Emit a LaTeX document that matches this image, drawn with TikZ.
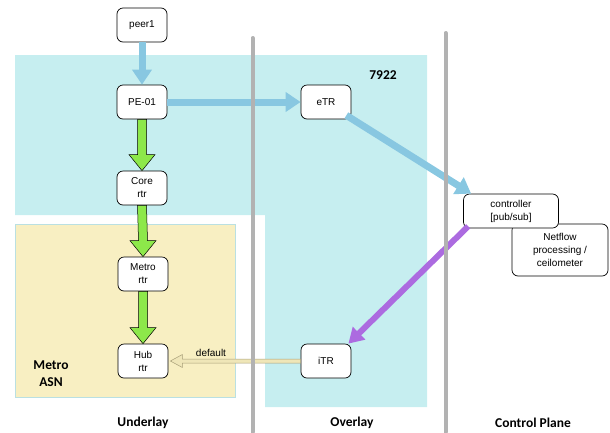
\documentclass[tikz,border=0pt]{standalone}
\usepackage{fontspec}
\setmainfont{Liberation Sans}
\newfontfamily\lblfont{Carlito}
\usetikzlibrary{arrows.meta,calc}
\definecolor{cyanbg}{HTML}{C6EEF0}
\definecolor{yelbg}{HTML}{F8EFC2}
\definecolor{blueln}{HTML}{88C7E1}
\definecolor{grnfill}{HTML}{8DE84A}
\definecolor{purpln}{HTML}{AC6BE0}
\definecolor{beige}{HTML}{EFE6B8}
\definecolor{beigeedge}{HTML}{A89F78}
\definecolor{divgray}{HTML}{B2B2B2}
\tikzset{
  box/.style={draw=black, fill=white, rounded corners=6pt, line width=0.7pt,
    minimum width=50pt, minimum height=34pt, inner sep=1pt, align=center,
    font=\fontsize{10}{13}\selectfont},
  bluearrow/.style={line width=7pt, draw=blueln, -{Triangle[length=15pt,width=19pt]}},
  purparrow/.style={line width=6pt, draw=purpln, -{Triangle[length=15pt,width=17pt]}},
  grnarrow/.style={draw=black, fill=grnfill, line width=0.5pt, line join=miter},
  defarrow/.style={draw=beigeedge, fill=beige, line width=0.5pt},
  divider/.style={line width=4pt, draw=divgray, line cap=round},
  lbl/.style={font=\lblfont\bfseries\fontsize{13.5}{17}\selectfont, align=center}
}
\begin{document}
\begin{tikzpicture}[x=1pt,y=-1pt]
\useasboundingbox (0,0) rectangle (610,432);
% regions
\fill[cyanbg] (15,55) -- (427,55) -- (427,407) -- (265,407) -- (265,215) -- (15,215) -- cycle;
\draw[fill=yelbg, draw=cyanbg!80!black!30!cyanbg, line width=0.6pt] (15,224) rectangle (235,397);

% nodes
\node[box] (peer) at (142,25) {peer1};
\node[box] (pe) at (142,102) {PE-01};
\node[box] (core) at (142,188) {Core\\rtr};
\node[box] (metro) at (143,274) {Metro\\rtr};
\node[box] (hub) at (143,361) {Hub\\rtr};
\node[box] (etr) at (326,102) {eTR};
\node[box] (itr) at (326,361) {iTR};
\node[box, minimum width=96pt, minimum height=52pt] (net) at (560,250) {Netflow\\processing /\\ceilometer};
\node[box, minimum width=95pt] (ctrl) at (511,211) {controller\\{[pub/sub]}};

% arrows
\draw[bluearrow] (peer.south) -- (pe.north);
\draw[bluearrow] (pe.east) -- (etr.west);
\draw[bluearrow] ($(etr.south east)+(-5,-4)$) -- ($(ctrl.north west)+(8,0)$);
\draw[purparrow] ($(ctrl.south west)+(5,-2)$) -- ($(itr.north east)+(-3,0)$);

\foreach \a/\b in {pe/core, core/metro, metro/hub}{
  \draw[grnarrow] ($(\a.south)+(-4.5,0)$) -- ($(\b.north)+(-4.5,-16)$) -- ($(\b.north)+(-13,-16)$)
    -- (\b.north) -- ($(\b.north)+(13,-16)$) -- ($(\b.north)+(4.5,-16)$) -- ($(\a.south)+(4.5,0)$) -- cycle;
}
\draw[defarrow] (itr.west) ++(0,-2) -- ($(hub.east)+(14,-2)$) -- ($(hub.east)+(14,-6.5)$)
  -- ($(hub.east)+(2,0)$) -- ($(hub.east)+(14,6.5)$) -- ($(hub.east)+(14,2)$) -- ($(itr.west)+(0,2)$) -- cycle;
\node[font=\fontsize{10}{12}\selectfont, anchor=base] (deflbl) at (211,356) {default};

% dividers
\draw[divider] (252.5,38) -- (252.5,432);
\draw[divider] (445.5,33) -- (445.5,432);

% labels
\node[lbl] (asn) at (383,75) {7922};
\node[lbl] (metroasn) at (51,374) {Metro\\ASN};
\node[lbl] (under) at (143,423) {Underlay};
\node[lbl] (over) at (352,423) {Overlay};
\node[lbl] (cp) at (533,423) {Control Plane};
\end{tikzpicture}
\end{document}
